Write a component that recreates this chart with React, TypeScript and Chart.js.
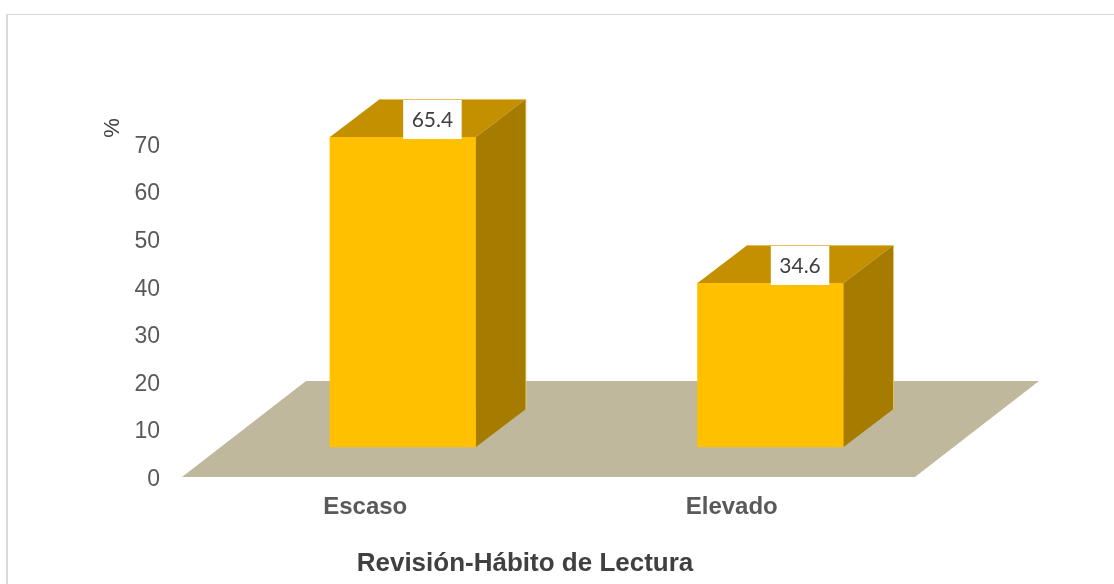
import React, { useEffect, useRef } from "react";
import { Chart, registerables } from "chart.js";

Chart.register(...registerables);

const categories = ["Escaso", "Elevado"];
const percentages = [65.4, 34.6];
const yTickMin = 0;
const yTickMax = 70;
const yTickStep = 10;
const yAxisTitle = "%";
const xAxisTitle = "Revisión-Hábito de Lectura";

const SANS = "'Liberation Sans', Arial, sans-serif";
const LABEL_FONT = "Lato, 'Open Sans', sans-serif";
const DEPTH_DX = 50;
const DEPTH_DY = -38;
const FLOOR_DX = 124;
const FLOOR_DY = -96;

const threeDPlugin = {
  id: "threeD",
  beforeDatasetsDraw(chart: any) {
    const { ctx, chartArea, scales } = chart;
    const y0 = scales.y.getPixelForValue(0);
    const l = chartArea.left;
    const r = chartArea.right;
    ctx.save();
    ctx.fillStyle = "#C0B89C";
    ctx.beginPath();
    ctx.moveTo(l, y0);
    ctx.lineTo(r, y0);
    ctx.lineTo(r + FLOOR_DX, y0 + FLOOR_DY);
    ctx.lineTo(l + FLOOR_DX, y0 + FLOOR_DY);
    ctx.closePath();
    ctx.fill();
    ctx.restore();
  },
  afterDatasetsDraw(chart: any) {
    const { ctx } = chart;
    const meta = chart.getDatasetMeta(0);
    meta.data.forEach((bar: any, i: number) => {
      const { x, y, base, width } = bar.getProps(["x", "y", "base", "width"], true);
      const L = x - width / 2;
      const R = x + width / 2;
      ctx.save();
      // top face
      ctx.fillStyle = "#C49000";
      ctx.beginPath();
      ctx.moveTo(L, y);
      ctx.lineTo(R, y);
      ctx.lineTo(R + DEPTH_DX, y + DEPTH_DY);
      ctx.lineTo(L + DEPTH_DX, y + DEPTH_DY);
      ctx.closePath();
      ctx.fill();
      // side face
      ctx.fillStyle = "#A67C00";
      ctx.beginPath();
      ctx.moveTo(R, y);
      ctx.lineTo(R + DEPTH_DX, y + DEPTH_DY);
      ctx.lineTo(R + DEPTH_DX, base + DEPTH_DY);
      ctx.lineTo(R, base);
      ctx.closePath();
      ctx.fill();
      // light edges
      ctx.strokeStyle = "rgba(235,205,120,0.8)";
      ctx.lineWidth = 1;
      ctx.beginPath();
      ctx.moveTo(L + DEPTH_DX, y + DEPTH_DY + 0.5);
      ctx.lineTo(R + DEPTH_DX, y + DEPTH_DY + 0.5);
      ctx.lineTo(R + DEPTH_DX, base + DEPTH_DY);
      ctx.stroke();
      // data label
      const text = percentages[i].toFixed(1);
      ctx.font = `21px ${LABEL_FONT}`;
      const tw = ctx.measureText(text).width;
      const bw = tw + 17;
      const cx = x + DEPTH_DX * 0.59;
      const top = y + DEPTH_DY + 1;
      ctx.fillStyle = "#FFFFFF";
      ctx.fillRect(cx - bw / 2, top, bw, -DEPTH_DY + 1);
      ctx.fillStyle = "#404040";
      ctx.textAlign = "center";
      ctx.textBaseline = "middle";
      ctx.fillText(text, cx, top + (-DEPTH_DY + 1) / 2 + 1);
      ctx.restore();
    });
  },
  afterDraw(chart: any) {
    const { ctx } = chart;
    ctx.save();
    ctx.translate(113, 128);
    ctx.rotate(-Math.PI / 2);
    ctx.font = `22px ${SANS}`;
    ctx.fillStyle = "#404040";
    ctx.textAlign = "center";
    ctx.textBaseline = "middle";
    ctx.fillText(yAxisTitle, 0, 0);
    ctx.restore();
  },
};

export default function App() {
  const canvasRef = useRef<HTMLCanvasElement | null>(null);

  useEffect(() => {
    if (!canvasRef.current) return;
    const chart = new Chart(canvasRef.current, {
      type: "bar",
      data: {
        labels: categories,
        datasets: [
          {
            data: percentages.map((v, i) => ({ x: i, y: v })),
            xAxisID: "xb",
            yAxisID: "yb",
            backgroundColor: "#FFC000",
            borderWidth: 0,
            barThickness: 146,
            clip: false as any,
          },
        ],
      },
      options: {
        responsive: false,
        animation: false,
        devicePixelRatio: 1,
        layout: { padding: { top: 144, left: 0, right: 64, bottom: 4.4 } },
        plugins: {
          legend: { display: false },
          tooltip: { enabled: false },
          title: {
            display: true,
            text: xAxisTitle,
            position: "bottom",
            color: "#404040",
            font: { family: SANS, size: 26, weight: "bold" },
            padding: { top: 0, bottom: 0 },
          },
        },
        scales: {
          x: {
            type: "category",
            position: "bottom",
            offset: true,
            grid: { display: false },
            border: { display: false },
            ticks: {
              color: "#595959",
              font: { family: SANS, size: 24, weight: "bold" },
              padding: 8,
            },
            afterFit: (s: any) => {
              s.height = 71.4;
            },
          },
          y: {
            type: "linear",
            position: "left",
            min: yTickMin,
            max: yTickMax,
            grid: { display: false },
            border: { display: false },
            ticks: {
              stepSize: yTickStep,
              color: "#595959",
              font: { family: SANS, size: 23 },
              padding: 14,
              labelOffset: 2.5,
            },
            afterFit: (s: any) => {
              s.width = 182;
            },
          },
          xb: {
            type: "linear",
            display: false,
            offset: false,
            bounds: "data",
            min: -0.601,
            max: 1.393,
          },
          yb: {
            type: "linear",
            position: "right",
            min: -6.33,
            max: 63.92,
            grid: { display: false },
            border: { display: false },
            ticks: { display: false },
            afterFit: (s: any) => {
              s.width = 135;
            },
          },
        },
      },
      plugins: [threeDPlugin],
    });
    return () => chart.destroy();
  }, []);

  return (
    <div style={{ position: "fixed", left: 0, top: 0, width: 1114, height: 584, background: "#fff" }}>
      <div
        style={{
          position: "absolute",
          left: 6,
          top: 14,
          width: 1114,
          height: 584,
          borderLeft: "2px solid #D9D9D9",
          borderTop: "1px solid #D9D9D9",
        }}
      />
      <canvas
        ref={canvasRef}
        width={1114}
        height={584}
        style={{ position: "absolute", left: 0, top: 0, width: 1114, height: 584 }}
      />
    </div>
  );
}
